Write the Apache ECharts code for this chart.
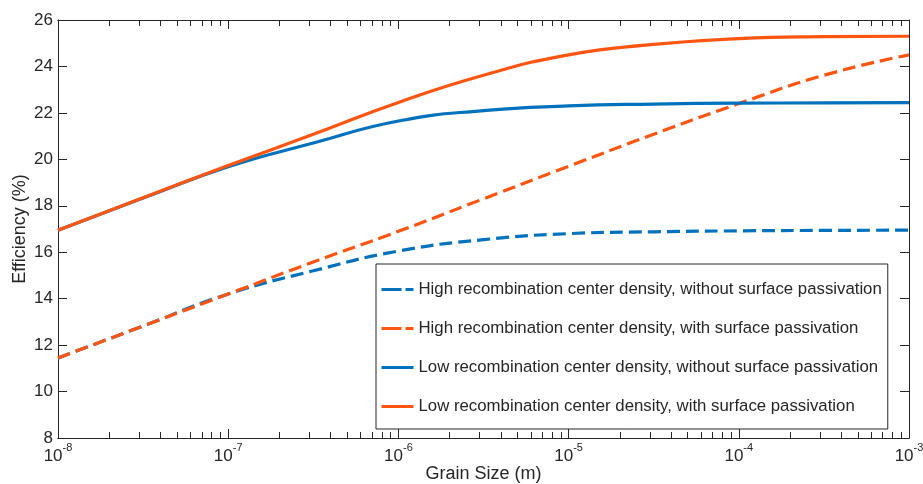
<!DOCTYPE html>
<html>
<head>
<meta charset="utf-8">
<script src="https://cdn.jsdelivr.net/npm/echarts@6/dist/echarts.min.js"></script>
<style>
  html, body { margin: 0; padding: 0; background: #fff; }
  #chart { width: 923px; height: 484px; }
</style>
</head>
<body>
<div id="chart"></div>
<script>
// Grain size (m), half-decade steps
const grainSize = [1e-8, 3.162e-8, 1e-7, 3.162e-7, 1e-6, 3.162e-6, 1e-5, 3.162e-5, 1e-4, 3.162e-4, 1e-3];
// Efficiency (%)
const highNoPass = [11.45, 12.82, 14.2, 15.2, 16.05, 16.54, 16.8, 16.88, 16.92, 16.94, 16.95];
const highPass   = [11.45, 12.82, 14.2, 15.58, 16.9, 18.3, 19.7, 21.08, 22.4, 23.62, 24.5];
const lowNoPass  = [16.95, 18.33, 19.68, 20.7, 21.65, 22.1, 22.3, 22.38, 22.42, 22.43, 22.44];
const lowPass    = [16.95, 18.35, 19.73, 21.08, 22.45, 23.62, 24.5, 24.95, 25.2, 25.28, 25.3];

const seriesNames = [
  'High recombination center density, without surface passivation',
  'High recombination center density, with surface passivation',
  'Low recombination center density, without surface passivation',
  'Low recombination center density, with surface passivation'
];
const xTickExponents = [-8, -7, -6, -5, -4, -3];
const minorMantissas = [2, 3, 4, 5, 6, 7, 8, 9];

const BLUE = '#0072BD';
const ORANGE = '#FF5511';
const INK = '#262626';
const FONT = '"Liberation Sans", Arial, Helvetica, sans-serif';
const DASH = [13, 6];

const majorTicks = xTickExponents.map(e => Math.pow(10, e));
const minorTicks = [];
xTickExponents.slice(0, -1).forEach(e => {
  minorMantissas.forEach(m => minorTicks.push(m * Math.pow(10, e)));
});

function pairs(ys) { return grainSize.map((x, i) => [x, ys[i]]); }

const axisLine = { show: true, lineStyle: { color: INK, width: 1 } };

function xAx(position, ticks, len, labels) {
  return {
    type: 'log', logBase: 10, min: 1e-8, max: 1e-3, position: position,
    axisLine: axisLine,
    axisTick: { show: true, inside: true, length: len, customValues: ticks, lineStyle: { color: INK } },
    axisLabel: labels ? {
      show: true, margin: 4, customValues: majorTicks,
      formatter: v => '{b|10}{s|' + Math.round(Math.log10(v)) + '}',
      rich: {
        b: { fontSize: 17, color: INK, fontFamily: FONT, padding: [4, 0, 0, 0] },
        s: { fontSize: 11, color: INK, fontFamily: FONT, padding: [0, 0, 14, 0] }
      }
    } : { show: false },
    splitLine: { show: false },
    minorTick: { show: false },
    name: labels ? 'Grain Size (m)' : '',
    nameLocation: 'middle', nameGap: 27, nameMoveOverlap: false,
    nameTextStyle: { fontSize: 18, color: INK, fontFamily: FONT, verticalAlign: 'top' }
  };
}

function mkSeries(name, ys, color, dashed) {
  return {
    name: name, type: 'line', data: pairs(ys),
    xAxisIndex: 0, yAxisIndex: 0,
    smooth: 0.5,
    symbol: 'none', showSymbol: false,
    lineStyle: { color: color, width: 3.2, type: dashed ? DASH : 'solid' },
    itemStyle: { color: color },
    emphasis: { disabled: true },
    z: 2
  };
}

const legendStyles = [
  { color: BLUE, dashed: true },
  { color: ORANGE, dashed: true },
  { color: BLUE, dashed: false },
  { color: ORANGE, dashed: false }
];

const chart = echarts.init(document.getElementById('chart'), null, { renderer: 'canvas' });
chart.setOption({
  animation: false,
  backgroundColor: '#fff',
  textStyle: { fontFamily: FONT },
  grid: { left: 58, right: 14, top: 20, bottom: 46, containLabel: false, outerBoundsMode: 'none' },
  xAxis: [
    xAx('bottom', majorTicks, 9, true),
    xAx('bottom', minorTicks, 6, false),
    xAx('top', majorTicks, 9, false),
    xAx('top', minorTicks, 6, false)
  ],
  yAxis: [
    {
      type: 'value', min: 8, max: 26, interval: 2, position: 'left',
      axisLine: axisLine,
      axisTick: { show: true, inside: true, length: 9, lineStyle: { color: INK } },
      axisLabel: { show: true, margin: 5, fontSize: 17, color: INK, fontFamily: FONT },
      splitLine: { show: false },
      name: 'Efficiency (%)', nameLocation: 'middle', nameGap: 29, nameMoveOverlap: false,
      nameTextStyle: { fontSize: 18, color: INK, fontFamily: FONT }
    },
    {
      type: 'value', min: 8, max: 26, interval: 2, position: 'right',
      axisLine: axisLine,
      axisTick: { show: true, inside: true, length: 9, lineStyle: { color: INK } },
      axisLabel: { show: false },
      splitLine: { show: false }
    }
  ],
  legend: {
    show: true, orient: 'vertical', left: 376, top: 264,
    data: seriesNames.map((n, i) => ({
      name: n,
      itemStyle: { opacity: 0 },
      lineStyle: { color: legendStyles[i].color, width: 3, type: legendStyles[i].dashed ? [20, 4] : 'solid' }
    })),
    itemWidth: 32, itemHeight: 14, itemGap: 22,
    padding: [17, 6, 14, 4],
    borderColor: INK, borderWidth: 1, backgroundColor: '#fff',
    selectedMode: false,
    itemStyle: { opacity: 0 },
    textStyle: { fontSize: 16.8, color: INK, fontFamily: FONT }
  },
  series: [
    mkSeries(seriesNames[0], highNoPass, BLUE, true),
    mkSeries(seriesNames[1], highPass, ORANGE, true),
    mkSeries(seriesNames[2], lowNoPass, BLUE, false),
    mkSeries(seriesNames[3], lowPass, ORANGE, false)
  ]
});
</script>
</body>
</html>
